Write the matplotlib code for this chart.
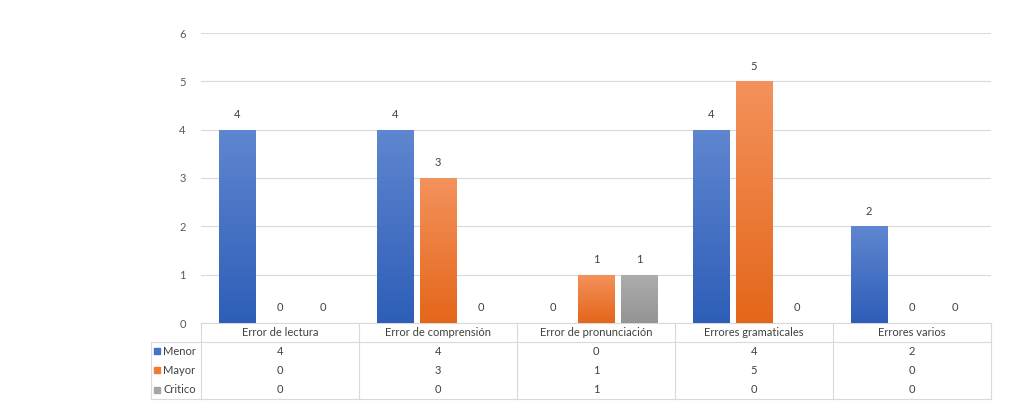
import numpy as np
import matplotlib.pyplot as plt
from matplotlib.colors import LinearSegmentedColormap
from matplotlib.transforms import blended_transform_factory

plt.rcParams['font.family'] = ['Lato', 'DejaVu Sans']

# chart values
categories = ["Error de lectura", "Error de comprensión", "Error de pronunciación",
              "Errores gramaticales", "Errores varios"]
series_names = ["Menor", "Mayor", "Critico"]
menor = [4, 4, 0, 4, 2]
mayor = [0, 3, 1, 5, 0]
critico = [0, 0, 1, 0, 0]
series_values = [menor, mayor, critico]

# gradient colours: (top, bottom)
grads = [("#5f86d0", "#2e5eb8"), ("#f4925c", "#e4661a"), ("#adadad", "#949494")]
key_colors = ["#4472c4", "#ed7d31", "#a5a5a5"]

fig = plt.figure(figsize=(10.24, 4.18), dpi=100)
ax = fig.add_axes([201 / 1024, 95 / 418, 790 / 1024, 290 / 418])

x = np.arange(len(categories))
offs = [-0.272, 0.0, 0.272]
width = 0.228

for k, vals in enumerate(series_values):
    bars = ax.bar(x + offs[k], vals, width, color="none", edgecolor="none", zorder=3)
    cmap = LinearSegmentedColormap.from_list("g%d" % k, [grads[k][1], grads[k][0]])
    grad = np.linspace(0, 1, 256).reshape(-1, 1)
    for b in bars:
        h = b.get_height()
        if h <= 0:
            continue
        x0 = b.get_x()
        im = ax.imshow(grad, cmap=cmap, aspect="auto", origin="lower",
                       extent=[x0, x0 + b.get_width(), 0, h], zorder=3)
        im.set_clip_path(b)
    ax.bar_label(bars, labels=[str(v) for v in vals], padding=7,
                 fontsize=8, color="#404040")

ax.set_xlim(-0.5, len(categories) - 0.5)
ax.set_ylim(0, 6)
ax.set_yticks(range(7))
ax.set_xticks([])
ax.tick_params(axis="y", length=0, labelsize=8, labelcolor="#595959", pad=11)
ax.grid(axis="y", color="#d9d9d9", linewidth=0.8, zorder=0)
for s in ax.spines.values():
    s.set_visible(False)

# data table below the plot
tr = blended_transform_factory(ax.transData, ax.transAxes)
ax_h = 290.0
hdr = 18.5 / ax_h
row = 19.3 / ax_h
y_hdr_bot = -hdr
y_bot = y_hdr_bot - 3 * row
leg_left = -0.5 - 50.5 / 158
line_kw = dict(color="#d9d9d9", linewidth=0.8, transform=tr, clip_on=False)

xr = len(categories) - 0.5
ax.plot([-0.5, xr], [0, 0], **line_kw)
ax.plot([leg_left, xr], [y_hdr_bot, y_hdr_bot], **line_kw)
ax.plot([leg_left, xr], [y_bot, y_bot], **line_kw)
ax.plot([leg_left, leg_left], [y_hdr_bot, y_bot], **line_kw)
for i in range(len(categories) + 1):
    ax.plot([i - 0.5, i - 0.5], [0, y_bot], **line_kw)

for i, c in enumerate(categories):
    ax.text(i, -hdr / 2, c, transform=tr, ha="center", va="center",
            fontsize=8, color="#404040", clip_on=False)

for k, name in enumerate(series_names):
    yc = y_hdr_bot - (k + 0.5) * row
    ax.plot([leg_left + 0.043], [yc], marker="s", markersize=5, color=key_colors[k],
            transform=tr, clip_on=False, linestyle="none")
    ax.text(leg_left + 0.082, yc, name, transform=tr, ha="left", va="center",
            fontsize=8, color="#404040", clip_on=False)
    for i, v in enumerate(series_values[k]):
        ax.text(i, yc, str(v), transform=tr, ha="center", va="center",
                fontsize=8, color="#404040", clip_on=False)

fig.savefig("out.png", dpi=100)
